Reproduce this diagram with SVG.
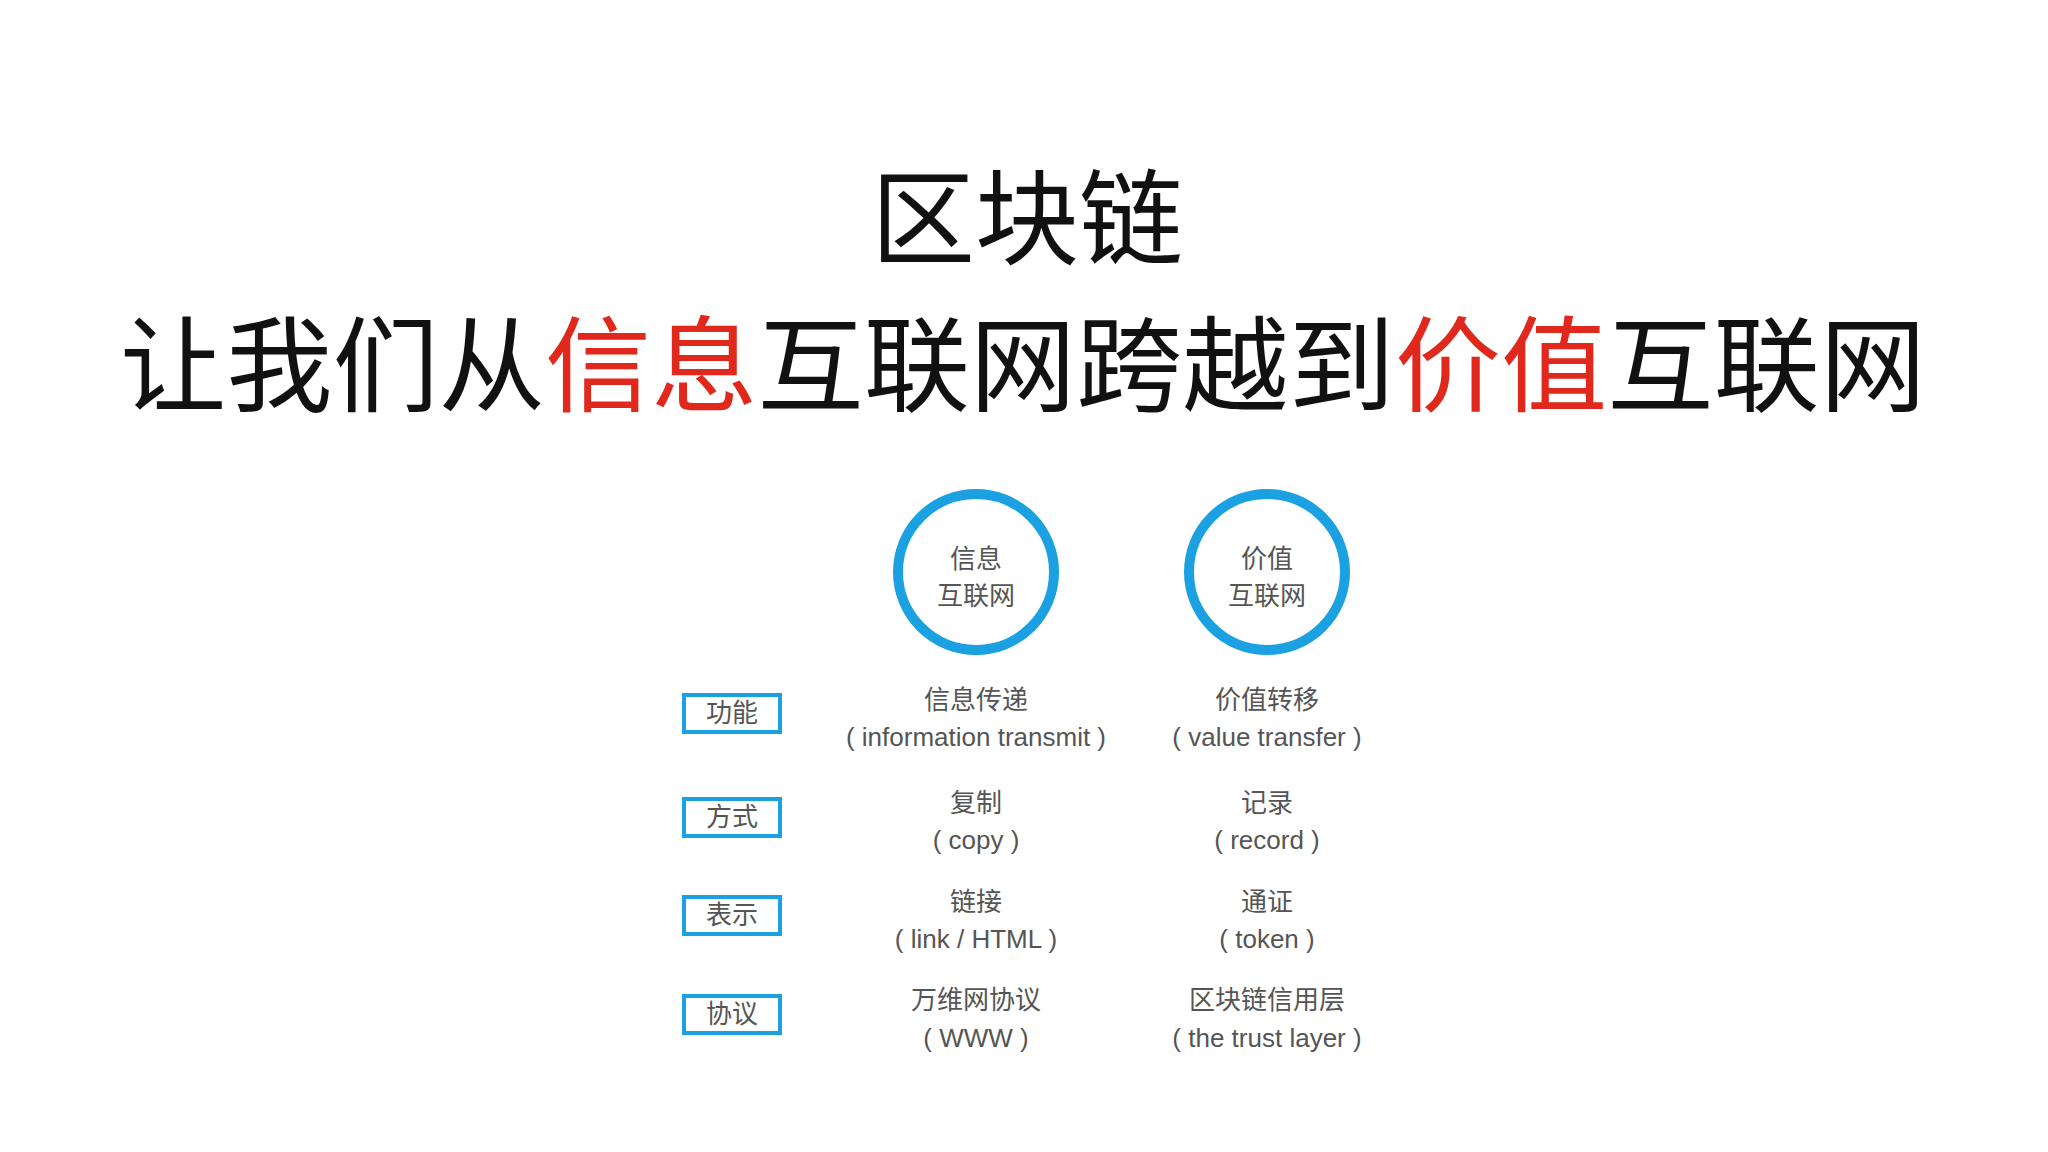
<svg xmlns="http://www.w3.org/2000/svg" width="2048" height="1152" viewBox="0 0 2048 1152">
<style>
.t{font-family:"Liberation Sans","Noto Sans CJK SC",sans-serif;text-anchor:middle;}
.h{font-size:104px;fill:#111;}
.r{fill:#e0281c;}
.s{font-size:26px;fill:#555;}
.c{fill:none;stroke:#1ba1e2;stroke-width:10;}
.b{fill:#fff;stroke:#1ba1e2;stroke-width:4;}
</style>
<rect width="2048" height="1152" fill="#fff"/>
<g id="title">
<text class="t h" x="1027" y="257">区块链</text>
<text class="t h" x="1023" y="404" textLength="1806" lengthAdjust="spacingAndGlyphs">让我们从<tspan class="r">信息</tspan>互联网跨越到<tspan class="r">价值</tspan>互联网</text>
</g>
<g id="circle1"><circle class="c" cx="976" cy="572" r="78"/><text class="t s" x="976" y="568">信息</text><text class="t s" x="976" y="605">互联网</text></g>
<g id="circle2"><circle class="c" cx="1267" cy="572" r="78"/><text class="t s" x="1267" y="568">价值</text><text class="t s" x="1267" y="605">互联网</text></g>
<g id="labels">
<rect class="b" x="684" y="695" width="96" height="37"/><text class="t s" x="732" y="722">功能</text>
<rect class="b" x="684" y="799" width="96" height="37"/><text class="t s" x="732" y="826">方式</text>
<rect class="b" x="684" y="897" width="96" height="37"/><text class="t s" x="732" y="924">表示</text>
<rect class="b" x="684" y="996" width="96" height="37"/><text class="t s" x="732" y="1023">协议</text>
</g>
<g id="col1">
<text class="t s" x="976" y="709">信息传递</text><text class="t s" x="976" y="746">( information transmit )</text>
<text class="t s" x="976" y="812">复制</text><text class="t s" x="976" y="849">( copy )</text>
<text class="t s" x="976" y="911">链接</text><text class="t s" x="976" y="948">( link / HTML )</text>
<text class="t s" x="976" y="1009">万维网协议</text><text class="t s" x="976" y="1047">( WWW )</text>
</g>
<g id="col2">
<text class="t s" x="1267" y="709">价值转移</text><text class="t s" x="1267" y="746">( value transfer )</text>
<text class="t s" x="1267" y="812">记录</text><text class="t s" x="1267" y="849">( record )</text>
<text class="t s" x="1267" y="911">通证</text><text class="t s" x="1267" y="948">( token )</text>
<text class="t s" x="1267" y="1009">区块链信用层</text><text class="t s" x="1267" y="1047">( the trust layer )</text>
</g>
<g id="connectors"/>
</svg>
